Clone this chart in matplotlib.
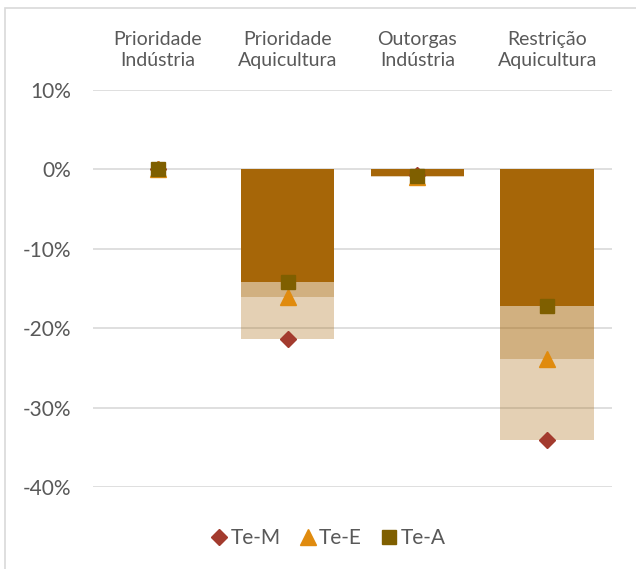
import numpy as np
import matplotlib.pyplot as plt
from matplotlib.patches import Rectangle
from matplotlib.ticker import FuncFormatter

# Dados
categorias = ['Prioridade\nIndústria', 'Prioridade\nAquicultura', 'Outorgas\nIndústria', 'Restrição\nAquicultura']
te_m = [0.1, -21.4, -0.7, -34.1]
te_e = [0.0, -16.1, -1.0, -23.9]
te_a = [0.0, -14.2, -0.85, -17.2]

cor_barra = '#A66608'
cor_texto = '#595959'
plt.rcParams['font.family'] = ['Lato', 'DejaVu Sans']

fig = plt.figure(figsize=(6.36, 5.69), dpi=100)
ax = fig.add_axes([93 / 636, 1 - 487 / 569, (612 - 93) / 636, (487 - 90) / 569])

x = np.arange(len(categorias))
largura = 0.72

# barras sobrepostas (Te-M e Te-E transparentes, Te-A sólida)
ax.bar(x, te_m, largura, color=cor_barra, alpha=0.3, zorder=2)
ax.bar(x, te_e, largura, color=cor_barra, alpha=0.3, zorder=2)
ax.bar(x, te_a, largura, color=cor_barra, zorder=3)

# marcadores
ax.plot(x, te_m, 'D', color='#A33B2E', ms=8.5, ls='none', zorder=4, label='Te-M')
ax.plot(x, te_e, '^', color='#E08B0E', ms=12, ls='none', zorder=5, label='Te-E')
ax.plot(x, te_a, 's', color='#7F5F00', ms=10, ls='none', zorder=6, label='Te-A')

ax.set_xlim(-0.5, len(categorias) - 0.5)
ax.set_ylim(-40, 10)
ax.set_yticks(np.arange(-40, 11, 10))
ax.yaxis.set_major_formatter(FuncFormatter(lambda v, p: f'{v:.0f}%'))
ax.grid(axis='y', color='#D9D9D9', lw=1.2, zorder=0)
ax.set_axisbelow(True)

ax.xaxis.tick_top()
ax.set_xticks(x)
ax.set_xticklabels(categorias, fontsize=14, color=cor_texto, linespacing=1.3)
ax.tick_params(axis='x', length=0, pad=15)
ax.tick_params(axis='y', length=0, pad=16, labelsize=15, labelcolor=cor_texto)
for s in ax.spines.values():
    s.set_visible(False)

fig.legend(loc='center', bbox_to_anchor=(328 / 636, 1 - 538 / 569), ncol=3, frameon=False,
           fontsize=15, labelcolor=cor_texto, handletextpad=0.15, columnspacing=0.9,
           handlelength=0.8)

# moldura do gráfico
fig.patches.append(Rectangle((5 / 636, -0.1), 1.2, 1.1 - 8 / 569, transform=fig.transFigure,
                             fill=False, edgecolor='#D9D9D9', lw=1.2))

fig.savefig('out.png', dpi=100)
